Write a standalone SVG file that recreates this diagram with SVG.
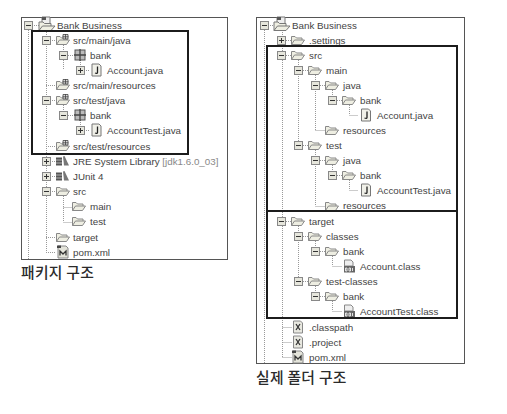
<svg xmlns="http://www.w3.org/2000/svg" width="507" height="414" viewBox="0 0 507 414">
<style>
text{font-family:"Liberation Sans",Arial,sans-serif;font-size:9.8px;fill:#444}
text.cap{font-family:"Noto Sans CJK KR",sans-serif;font-size:14.8px;font-weight:500;fill:#2b2b2b;letter-spacing:.3px}
.panel{fill:#fff;stroke:#555;stroke-width:1}
.hl{fill:none;stroke:#1c1c1c;stroke-width:2}
.dot{fill:none;stroke:#999;stroke-width:1;stroke-dasharray:1 1}
</style>
<defs>
<g id="minus"><rect x="-4" y="-4" width="8" height="8" fill="#e6e6dc" stroke="#888"/><path d="M-2.500 0H2.500" stroke="#333"/></g>
<g id="plus"><rect x="-4" y="-4" width="8" height="8" fill="#e6e6dc" stroke="#888"/><path d="M-2.500 0H2.500M0-2.500V2.500" stroke="#333"/></g>
<g id="fo"><path d="M-6.500 4.500V-3.500H-3L-1.500-2H4V0M-6.500 4.500L-3.500 0H6.500L3.500 4.500Z" fill="#eeeee2" stroke="#888" stroke-linejoin="round"/></g>
<g id="pf"><use href="#fo"/><path d="M0-5.500H5V-1H0ZM2.500-6V-1M-.5-3.200H5.500" fill="#ddd" stroke="#444" stroke-width=".8"/></g>
<g id="rt"><path d="M-5-8H3V0H-5Z" fill="#eee" stroke="#777"/><path d="M-5-8H-1V-5H-5Z" fill="#555"/><path d="M-8 5.500V-3H-4L-2.500-1.500H4V1M-8 5.500L-4.500 1H8L4 5.500Z" fill="#eeeee2" stroke="#777" stroke-linejoin="round"/></g>
<g id="pk"><rect x="-5" y="-5" width="10" height="10" fill="#bbb" stroke="#555"/><path d="M0-6V6M-6 0H6" stroke="#444" stroke-width="1.300"/></g>
<g id="jf"><path d="M-4.500-6H2.500L4.500-4V6H-4.500Z" fill="#f0f0e8" stroke="#777"/><path d="M1-3.500V2.500Q1 3.800-1.500 3" fill="none" stroke="#222" stroke-width="1.300"/></g>
<g id="xf"><path d="M-4.500-6H2.500L4.500-4V6H-4.500Z" fill="#e8e8e0" stroke="#888"/><path d="M-2-3L2 3M2-3L-2 3" stroke="#333" stroke-width="1.300"/></g>
<g id="mf"><path d="M-5-6H3L5-4V6H-5Z" fill="#e4e4da" stroke="#888"/><path d="M-6-6.500H-2V-4H-6Z" fill="#444"/><path d="M-3 3.500V-1L0 2L3-1V3.500" fill="none" stroke="#333" stroke-width="1.300"/></g>
<g id="cf"><path d="M-4.500-7H2L4-5V-1H-4.500Z" fill="#eee" stroke="#888"/><rect x="-5" y="-1" width="11" height="6.500" fill="#666"/><path d="M-3.500 1H-2V4H-3.500ZM0 1H1.500V4H0ZM3.500 1V4" fill="none" stroke="#fff" stroke-width=".8"/></g>
<g id="lb"><path d="M-7-3.500H-1V4.500H-7Z" fill="#555"/><path d="M-7-1H-1M-7 2H-1" stroke="#ccc" stroke-width=".8"/><path d="M0-4.500L1.500-5L6 4.500H1Z" fill="#777"/></g>
</defs>
<rect width="507" height="414" fill="#fff"/>
<g id="panels">
<rect class="panel" x="21.500" y="17.500" width="206" height="242"/>
<rect class="panel" x="256.500" y="17.500" width="208" height="346"/>
</g>
<g id="connectors">
<path class="dot" d="M28.500 30V259M46.500 30V252M32 25.500H40M46 40.500H56M63.500 45V54M63.500 60V70M68 55.500H74M80.500 60V70M84 70.500H90M46 85.500H56M46 100.500H56M63.500 105V115M68 115.500H74M80.500 120V130M84 130.500H90M46 146.500H56M50 161.500H56M50 176.500H56M50 191.500H56M63.500 196V222M63.500 207.500H72M63.500 222.500H72M46 237.500H56M46 252.500H56"/>
<path class="dot" d="M264.500 30V363M282.500 30V357M268 25.500H276M286 40.500H292M286 55.500H292M298.500 60V145M303 70.500H309M315.500 75V130M320 85.500H326M332.500 90V100M337 100.500H343M349.500 105V115M349.500 115.500H358M315.500 130.500H326M303 145.500H309M315.500 150V206M320 160.500H326M332.500 165V175M337 175.500H343M349.500 180V190M349.500 190.500H358M315.500 206.500H326M286 221.500H292M298.500 226V281M303 236.500H309M315.500 241V251M320 251.500H326M332.500 256V266M332.500 266.500H342M303 281.500H309M315.500 286V296M320 296.500H326M332.500 301V311M332.500 311.500H342M282.500 327.500H292M282.500 342.500H292M282.500 357.500H292"/>
</g>
<g id="left-tree">
<g id="l-root"><use href="#minus" x="28.500" y="25.500"/><use href="#rt" x="47" y="25"/><text x="57" y="29">Bank Business</text></g>
<g id="l-srcmainjava"><use href="#minus" x="46.500" y="40.500"/><use href="#pf" x="63" y="40"/><text x="73" y="44">src/main/java</text></g>
<g id="l-bank1"><use href="#minus" x="63.500" y="55.500"/><use href="#pk" x="80" y="55"/><text x="90" y="59">bank</text></g>
<g id="l-account"><use href="#plus" x="80.500" y="70.500"/><use href="#jf" x="96.500" y="70"/><text x="107" y="74">Account.java</text></g>
<g id="l-srcmainres"><use href="#pf" x="63" y="85"/><text x="73" y="89">src/main/resources</text></g>
<g id="l-srctestjava"><use href="#minus" x="46.500" y="100.500"/><use href="#pf" x="63" y="100"/><text x="73" y="104">src/test/java</text></g>
<g id="l-bank2"><use href="#minus" x="63.500" y="115.500"/><use href="#pk" x="80" y="115"/><text x="90" y="119">bank</text></g>
<g id="l-accounttest"><use href="#plus" x="80.500" y="130.500"/><use href="#jf" x="96.500" y="130"/><text x="107" y="134">AccountTest.java</text></g>
<g id="l-srctestres"><use href="#pf" x="63" y="146"/><text x="73" y="150">src/test/resources</text></g>
<g id="l-jre"><use href="#plus" x="46.500" y="161.500"/><use href="#lb" x="63" y="161"/><text x="73" y="165">JRE System Library <tspan style="fill:#888">[jdk1.6.0_03]</tspan></text></g>
<g id="l-junit"><use href="#plus" x="46.500" y="176.500"/><use href="#lb" x="63" y="176"/><text x="73" y="180">JUnit 4</text></g>
<g id="l-src"><use href="#minus" x="46.500" y="191.500"/><use href="#fo" x="63" y="191"/><text x="73" y="195">src</text></g>
<g id="l-main"><use href="#fo" x="79" y="206"/><text x="90" y="210">main</text></g>
<g id="l-test"><use href="#fo" x="79" y="221"/><text x="90" y="225">test</text></g>
<g id="l-target"><use href="#fo" x="63" y="237"/><text x="73" y="241">target</text></g>
<g id="l-pom"><use href="#mf" x="63" y="252"/><text x="73" y="256">pom.xml</text></g>
</g>
<g id="right-tree">
<g id="r-root"><use href="#minus" x="264.500" y="25.500"/><use href="#rt" x="282" y="25"/><text x="292" y="29">Bank Business</text></g>
<g id="r-settings"><use href="#plus" x="281.500" y="40.500"/><use href="#fo" x="298" y="40"/><text x="309" y="44">.settings</text></g>
<g id="r-src"><use href="#minus" x="281.500" y="55.500"/><use href="#fo" x="298" y="55"/><text x="309" y="59">src</text></g>
<g id="r-main"><use href="#minus" x="298.500" y="70.500"/><use href="#fo" x="315" y="70"/><text x="326" y="74">main</text></g>
<g id="r-java"><use href="#minus" x="315.500" y="85.500"/><use href="#fo" x="332" y="85"/><text x="343" y="89">java</text></g>
<g id="r-bank"><use href="#minus" x="332.500" y="100.500"/><use href="#fo" x="349" y="100"/><text x="360" y="104">bank</text></g>
<g id="r-account"><use href="#jf" x="366" y="115"/><text x="377" y="119">Account.java</text></g>
<g id="r-resources"><use href="#fo" x="332" y="130"/><text x="343" y="134">resources</text></g>
<g id="r-test"><use href="#minus" x="298.500" y="145.500"/><use href="#fo" x="315" y="145"/><text x="326" y="149">test</text></g>
<g id="r-testjava"><use href="#minus" x="315.500" y="160.500"/><use href="#fo" x="332" y="160"/><text x="343" y="164">java</text></g>
<g id="r-testbank"><use href="#minus" x="332.500" y="175.500"/><use href="#fo" x="349" y="175"/><text x="360" y="179">bank</text></g>
<g id="r-accounttest"><use href="#jf" x="366" y="190"/><text x="377" y="194">AccountTest.java</text></g>
<g id="r-testres"><use href="#fo" x="332" y="206"/><text x="343" y="209">resources</text></g>
<g id="r-target"><use href="#minus" x="281.500" y="221.500"/><use href="#fo" x="298" y="221"/><text x="309" y="225">target</text></g>
<g id="r-classes"><use href="#minus" x="298.500" y="236.500"/><use href="#fo" x="315" y="236"/><text x="326" y="240">classes</text></g>
<g id="r-cbank"><use href="#minus" x="315.500" y="251.500"/><use href="#fo" x="332" y="251"/><text x="343" y="255">bank</text></g>
<g id="r-accountclass"><use href="#cf" x="349" y="267"/><text x="360" y="270">Account.class</text></g>
<g id="r-testclasses"><use href="#minus" x="298.500" y="281.500"/><use href="#fo" x="315" y="281"/><text x="326" y="285">test-classes</text></g>
<g id="r-tbank"><use href="#minus" x="315.500" y="296.500"/><use href="#fo" x="332" y="296"/><text x="343" y="300">bank</text></g>
<g id="r-accounttestclass"><use href="#cf" x="349" y="312"/><text x="360" y="315">AccountTest.class</text></g>
<g id="r-classpath"><use href="#xf" x="298" y="327"/><text x="309" y="331">.classpath</text></g>
<g id="r-project"><use href="#xf" x="298" y="342"/><text x="309" y="346">.project</text></g>
<g id="r-pom"><use href="#mf" x="298" y="357"/><text x="309" y="361">pom.xml</text></g>
</g>
<g id="highlights">
<rect class="hl" x="32" y="31" width="156" height="123"/>
<rect class="hl" x="267" y="46" width="190" height="165"/>
<rect class="hl" x="267" y="211" width="190" height="107"/>
</g>
<g id="captions">
<text class="cap" x="21" y="278">패키지 구조</text>
<text class="cap" x="256" y="383">실제 폴더 구조</text>
</g>
</svg>
